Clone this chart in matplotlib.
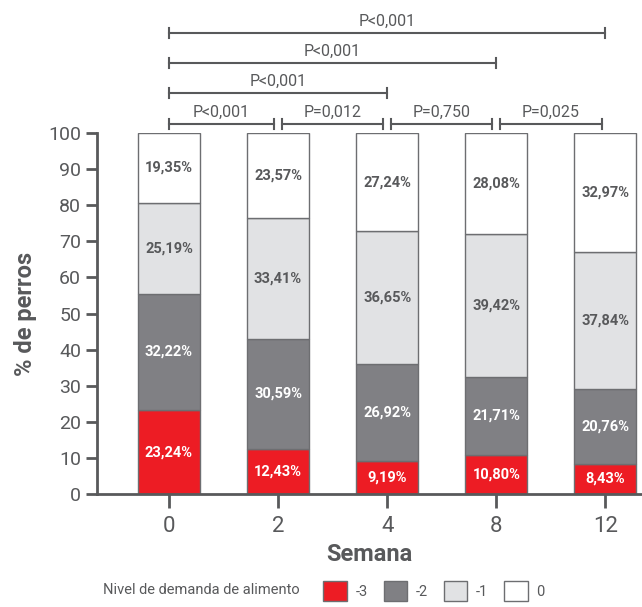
import matplotlib
matplotlib.use("Agg")
import matplotlib.pyplot as plt
import matplotlib.patches as mpatches
import numpy as np

plt.rcParams['font.family'] = ['Roboto', 'DejaVu Sans']

# data
semanas = ['0', '2', '4', '8', '12']
nivel_m3 = [23.24, 12.43, 9.19, 10.80, 8.43]
nivel_m2 = [32.22, 30.59, 26.92, 21.71, 20.76]
nivel_m1 = [25.19, 33.41, 36.65, 39.42, 37.84]
nivel_0 = [19.35, 23.57, 27.24, 28.08, 32.97]
niveles = ['-3', '-2', '-1', '0']

# comparisons (from, to, text, level)
comparaciones = [
    (0, 1, 'P<0,001', 0),
    (1, 2, 'P=0,012', 0),
    (2, 3, 'P=0,750', 0),
    (3, 4, 'P=0,025', 0),
    (0, 2, 'P<0,001', 1),
    (0, 3, 'P<0,001', 2),
    (0, 4, 'P<0,001', 3),
]

COLORS = ['#ed1c24', '#808084', '#e1e2e4', '#ffffff']
TXT_COL = ['white', 'white', '#58595b', '#58595b']
GREY = '#58595b'
EDGE = '#6d6e71'

fig = plt.figure(figsize=(6.42, 6.07), dpi=100)
ax = fig.add_axes([0.151, 0.186, 0.848, 0.595])

x = np.arange(len(semanas))
series = [nivel_m3, nivel_m2, nivel_m1, nivel_0]
bottom = np.zeros(len(semanas))
for vals, col, tc in zip(series, COLORS, TXT_COL):
    vals = np.array(vals)
    ax.bar(x, vals, 0.57, bottom=bottom, color=col, edgecolor=EDGE, linewidth=1.0, zorder=2)
    for xi, b, v in zip(x, bottom, vals):
        ax.text(xi, b + v / 2, f"{v:.2f}%".replace('.', ','), ha='center', va='center',
                color=tc, fontsize=10.5, fontweight='bold', zorder=3)
    bottom += vals

ax.set_xlim(-0.66, 4.33)
ax.set_ylim(0, 100)
ax.set_xticks(x)
ax.set_xticklabels(semanas)
ax.set_yticks(np.arange(0, 101, 10))
for s in ['top', 'right']:
    ax.spines[s].set_visible(False)
for s in ['left', 'bottom']:
    ax.spines[s].set_color(GREY)
    ax.spines[s].set_linewidth(2)
ax.tick_params(axis='both', colors=GREY, labelsize=14, width=2, length=8, direction='out')
ax.tick_params(axis='x', length=10, pad=6, labelsize=16)
ax.set_xlabel('Semana', fontsize=17, fontweight='bold', color=GREY, labelpad=4)
ax.set_ylabel('% de perros', fontsize=17, fontweight='bold', color=GREY, labelpad=8)

# brackets
levels = [102.5, 111.1, 119.4, 127.7]
for i, j, txt, lv in comparaciones:
    y = levels[lv]
    x0, x1 = i, j
    if lv == 0:
        x0 = i + (0.035 if i > 0 else 0)
        x1 = j - 0.035
    ax.plot([x0, x1], [y, y], color=GREY, lw=1.5, clip_on=False)
    ax.plot([x0, x0], [y - 1.3, y + 1.3], color=GREY, lw=1.5, clip_on=False)
    ax.plot([x1, x1], [y - 1.3, y + 1.3], color=GREY, lw=1.5, clip_on=False)
    ax.text((x0 + x1) / 2, y + 1.2, txt, ha='center', va='bottom', color=GREY,
            fontsize=11.5, clip_on=False)

# legend
fig.text(0.16, 0.017, 'Nivel de demanda de alimento', ha='left', va='bottom',
         color=GREY, fontsize=10.5)
handles = [mpatches.Patch(facecolor=c, edgecolor=EDGE, label=n) for c, n in zip(COLORS, niveles)]
leg = fig.legend(handles=handles, ncol=4, loc='lower left', bbox_to_anchor=(0.483, -0.012),
                 frameon=False, handlelength=1.6, handleheight=1.7, handletextpad=0.6,
                 columnspacing=1.1, fontsize=10.5)
for t in leg.get_texts():
    t.set_color(GREY)

fig.savefig('out.png', dpi=100)
